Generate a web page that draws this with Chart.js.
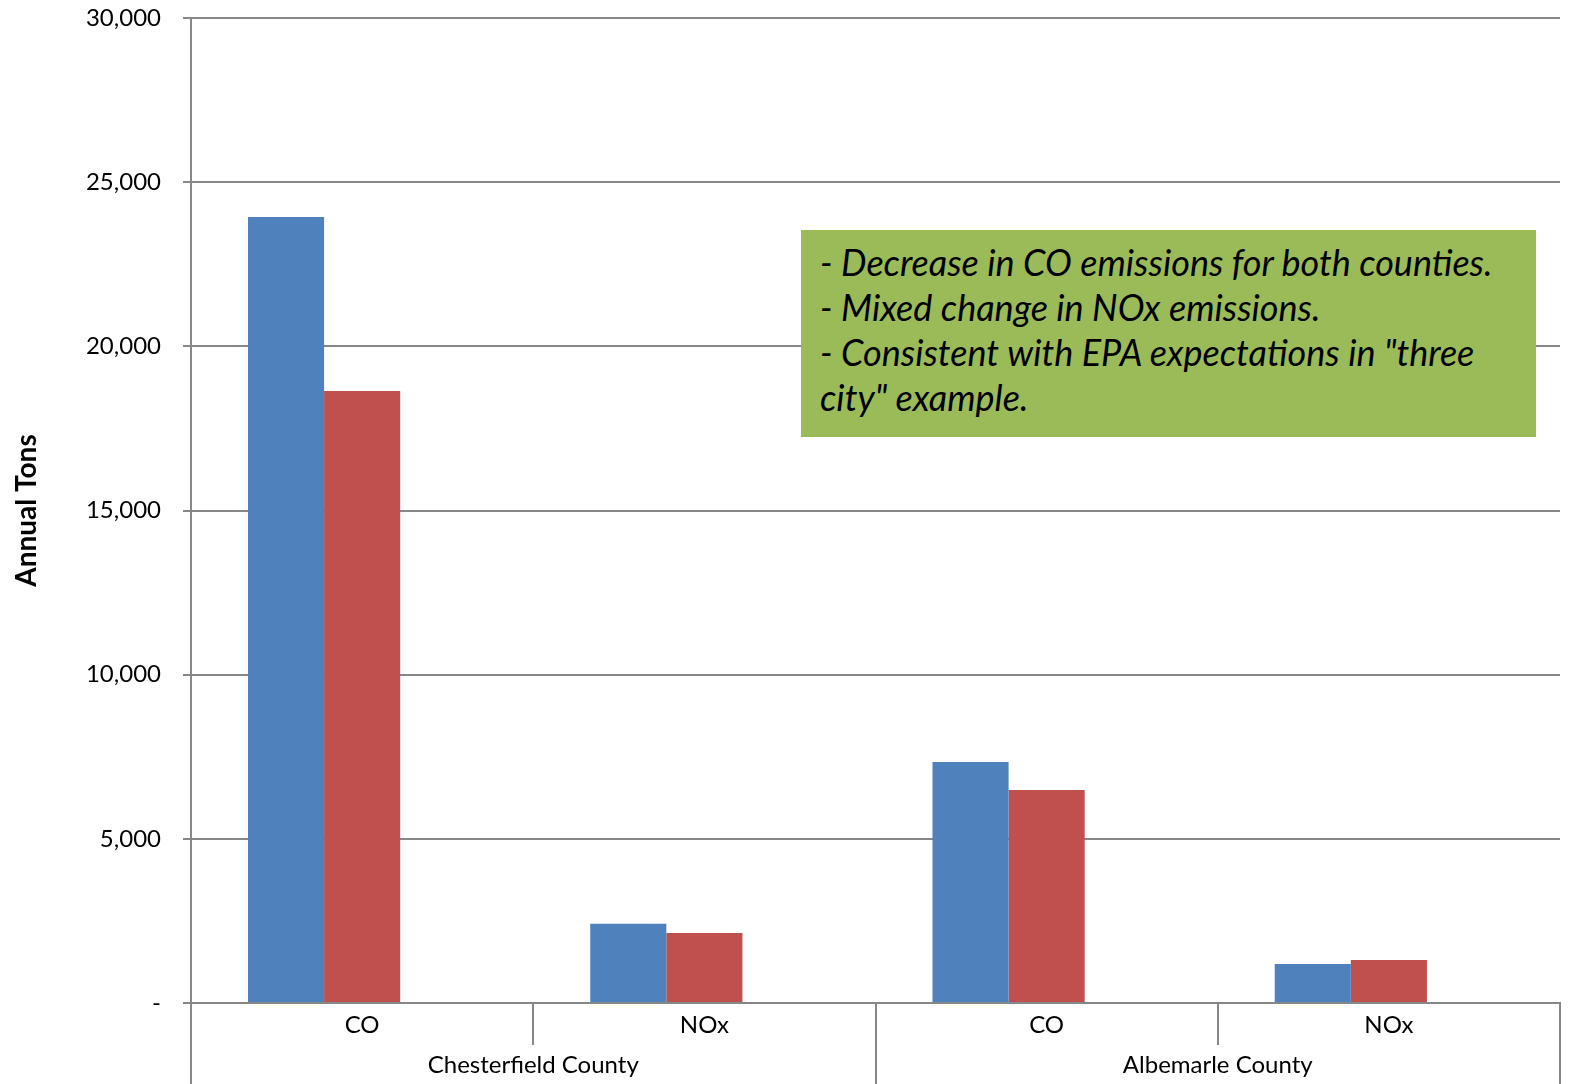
<!DOCTYPE html>
<html>
<head>
<meta charset="utf-8">
<script src="https://cdn.jsdelivr.net/npm/chart.js@4/dist/chart.umd.min.js"></script>
<style>
  html, body { margin: 0; padding: 0; background: #fff; overflow: hidden; }
  #wrap { position: relative; width: 1574px; height: 1084px; overflow: hidden; }
  #grafico { display: block; }
  #nota {
    position: absolute;
    left: 801px; top: 230px; width: 735px; height: 207px;
    box-sizing: border-box;
    padding: 10px 19px;
    background: #9BBB59;
    font-family: Lato, "Open Sans", sans-serif;
    font-style: italic;
    font-size: 36px;
    line-height: 45px;
    color: #000;
    white-space: nowrap;
  }
</style>
</head>
<body>
<div id="wrap">
  <canvas id="grafico" width="1574" height="1084"></canvas>
  <div id="nota">
    - Decrease in CO emissions for both counties.<br>
    - Mixed change in NOx emissions.<br>
    - Consistent with EPA expectations in "three<br>
    city" example.
  </div>
</div>
<script>
const contaminantes = ['CO', 'NOx', 'CO', 'NOx'];
const condados = ['Chesterfield County', 'Albemarle County'];
const serieAzul = [23940, 2410, 7340, 1190];
const serieRoja = [18640, 2130, 6490, 1310];
const serieVacia = [null, null, null, null];
const ticksY = [0, 5000, 10000, 15000, 20000, 25000, 30000];

const fuente = 'Lato, "Open Sans", sans-serif';
const gris = '#878787';

let myChart;

function mostrarGrafico() {
    const ctx = document.getElementById('grafico');

    myChart = new Chart(ctx, {
        type: 'bar',
        data: {
            labels: contaminantes,
            datasets: [
                { label: 'Serie 1', data: serieAzul, backgroundColor: '#4F81BD', xAxisID: 'x' },
                { label: 'Serie 2', data: serieRoja, backgroundColor: '#C0504D', xAxisID: 'x' },
                // tercera serie vacia: deja el hueco a la derecha de cada par de barras
                { label: 'Serie 3', data: serieVacia, backgroundColor: '#9BBB59', xAxisID: 'x' }
            ]
        },
        options: {
            responsive: false,
            animation: false,
            devicePixelRatio: 1,
            layout: { padding: { top: 18, right: 14, left: 0, bottom: 0 } },
            plugins: {
                legend: { display: false },
                tooltip: { enabled: false }
            },
            datasets: {
                bar: { categoryPercentage: 0.667, barPercentage: 1 }
            },
            scales: {
                y: {
                    min: 0,
                    max: 30000,
                    afterBuildTicks: (axis) => {
                        axis.ticks = ticksY.map(v => ({ value: v }));
                    },
                    afterFit: (axis) => {
                        axis.width = 191;
                        axis.paddingTop = 0;
                        axis.paddingBottom = 0;
                    },
                    ticks: {
                        color: '#000',
                        font: { family: fuente, size: 24 },
                        padding: 22,
                        callback: (v) => v === 0 ? '-' : v.toLocaleString('en-US')
                    },
                    grid: { color: gris, lineWidth: 2, tickLength: 8 },
                    border: { color: gris, width: 2 },
                    title: {
                        display: true,
                        text: 'Annual Tons',
                        color: '#000',
                        font: { family: fuente, size: 28, weight: 'bold' },
                        padding: { top: 10, bottom: 0 }
                    }
                },
                x: {
                    type: 'category',
                    position: 'bottom',
                    labels: contaminantes,
                    offset: true,
                    afterFit: (axis) => { axis.height = 42; },
                    ticks: {
                        color: '#000',
                        font: { family: fuente, size: 24 },
                        padding: -34
                    },
                    grid: {
                        offset: true,
                        drawOnChartArea: false,
                        color: gris,
                        lineWidth: 2,
                        tickLength: 42
                    },
                    border: { color: gris, width: 2 }
                },
                x2: {
                    type: 'category',
                    position: 'bottom',
                    labels: condados,
                    offset: true,
                    afterFit: (axis) => { axis.height = 39; },
                    ticks: {
                        color: '#000',
                        font: { family: fuente, size: 24 },
                        padding: -33
                    },
                    grid: {
                        offset: true,
                        drawOnChartArea: false,
                        color: gris,
                        lineWidth: 2,
                        tickLength: 39
                    },
                    border: { display: false }
                }
            }
        }
    });
}

mostrarGrafico();
</script>
</body>
</html>
